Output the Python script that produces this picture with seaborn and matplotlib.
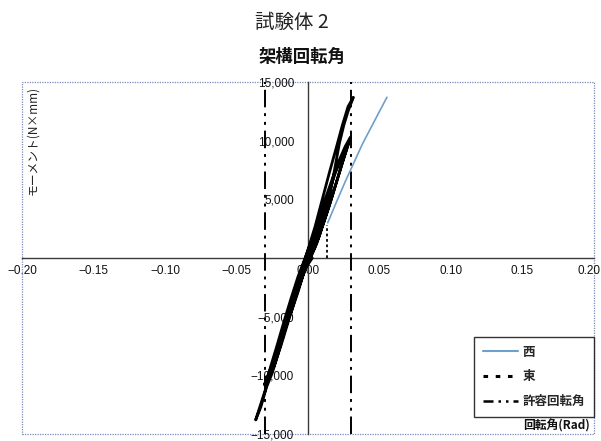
import numpy as np
import pandas as pd
import matplotlib
matplotlib.use("Agg")
import matplotlib.pyplot as plt
import seaborn as sns
from matplotlib.lines import Line2D
from matplotlib.patches import Rectangle
from matplotlib.ticker import FuncFormatter

# ---------------- data ----------------
# 東 (hysteresis loops), rotation [rad] and moment [N*mm]
east_rot = [
    0.000, 0.004, 0.008, 0.012, 0.0155,
    0.012, 0.007, 0.003, -0.001, -0.005, -0.009, -0.013, -0.016,
    -0.012, -0.007, -0.003, 0.001,
    0.005, 0.010, 0.015, 0.020, 0.025, 0.0297,
    0.026, 0.021, 0.016, 0.010, 0.004, -0.002, -0.007, -0.012, -0.017, -0.022, -0.026, -0.029,
    -0.024, -0.019, -0.014, -0.009, -0.004, 0.001, 0.006,
    0.011, 0.016, 0.021, 0.025, 0.029,
    0.025, 0.019, 0.013, 0.007, 0.001, -0.004, -0.009, -0.014, -0.019, -0.024, -0.028, -0.0305,
    -0.026, -0.021, -0.016, -0.011, -0.006, -0.001, 0.004,
    0.008, 0.012, 0.016, 0.019, 0.022, 0.025, 0.028, 0.0317,
    0.028, 0.024, 0.020, 0.015, 0.010, 0.005, 0.000, -0.005, -0.010, -0.015, -0.020, -0.025, -0.030, -0.0366,
    -0.033, -0.029, -0.025, -0.021, -0.017, -0.012, -0.007, -0.002, 0.003,
]
east_mom = [
    0, 1200, 2700, 4200, 5500,
    4600, 2800, 1000, -400, -1800, -3300, -4700, -5600,
    -4700, -2900, -1300, 0,
    1000, 2700, 4500, 6500, 8500, 10300,
    9500, 8100, 6400, 4300, 2000, 0, -1600, -3500, -5500, -7600, -9200, -10500,
    -9300, -7500, -5500, -3500, -1600, -200, 1200,
    3000, 4900, 6900, 8500, 10000,
    9000, 7200, 5000, 2800, 700, -900, -2800, -4900, -6900, -8800, -10000, -10800,
    -9800, -8100, -6100, -4100, -2300, -600, 700,
    1900, 3700, 5800, 7800, 9800, 11300, 12500, 13700,
    12900, 11300, 9500, 7300, 5000, 2700, 700, -1200, -3200, -5200, -7300, -9300, -11300, -13800,
    -12700, -11000, -9800, -8200, -6400, -4400, -2600, -900, 0,
]
# 東: short vertical dotted part
east_tail_rot = [0.013, 0.013]
east_tail_mom = [0, 2800]

# 西 (monotonic)
west_rot = [0.0138, 0.020, 0.026, 0.032, 0.038, 0.044, 0.050, 0.0552]
west_mom = [3000, 4800, 6500, 8100, 9700, 11100, 12500, 13700]

# 許容回転角
allow_rot = [-0.03, 0.03]

x_ticks = [-0.20, -0.15, -0.10, -0.05, 0.00, 0.05, 0.10, 0.15, 0.20]
y_ticks = [-15000, -10000, -5000, 0, 5000, 10000, 15000]

title_top = "試験体 2"
title_main = "架構回転角"
y_label = "モーメント(N×mm)"
x_label = "回転角(Rad)"
legend_labels = ["西", "東", "許容回転角"]

# ---------------- style ----------------
sns.set_theme(style="white")
plt.rcParams["font.family"] = ["Liberation Sans", "Noto Sans CJK JP", "DejaVu Sans"]
plt.rcParams["axes.unicode_minus"] = True
CJK = ["Noto Sans CJK JP", "DejaVu Sans"]

blue = "#6f9fcc"
axis_col = "#3a3a3a"
dashdotdot = (0, (9, 3, 1.5, 3, 1.5, 3))
TICK_FS = 8.5


def fmt_x(v):
    return f"{v:.2f}".replace("-", "\u2212")


fig = plt.figure(figsize=(6.01, 4.41), dpi=100)
fig.patch.set_facecolor("white")
ax = fig.add_axes([22 / 601, (441 - 434) / 441, 572 / 601, 352 / 441])
ax.set_facecolor("white")

# lines
east_df = pd.DataFrame({"rot": east_rot, "mom": east_mom})
sns.lineplot(data=east_df, x="rot", y="mom", sort=False, estimator=None,
             color="black", lw=2.0, ax=ax, zorder=4)
sns.lineplot(x=east_tail_rot, y=east_tail_mom, sort=False, estimator=None,
             color="black", lw=1.3, linestyle=(0, (1.5, 1.5)), ax=ax, zorder=4)
sns.lineplot(x=west_rot, y=west_mom, sort=False, estimator=None,
             color=blue, lw=1.2, ax=ax, zorder=3)
for v in allow_rot:
    ax.axvline(v, color="black", lw=1.4, linestyle=dashdotdot, zorder=2)

ax.set_xlim(-0.2, 0.2)
ax.set_ylim(-15000, 15000)

# spines through origin
for s in ["top", "right"]:
    ax.spines[s].set_visible(False)
ax.spines["left"].set_position(("data", 0))
ax.spines["bottom"].set_position(("data", 0))
for s in ["left", "bottom"]:
    ax.spines[s].set_color(axis_col)
    ax.spines[s].set_linewidth(1.0)
    ax.spines[s].set_zorder(1)

ax.set_xticks(x_ticks)
ax.set_yticks(y_ticks)
# the last x label is drawn separately (right-aligned) so it stays in the picture
ax.xaxis.set_major_formatter(FuncFormatter(
    lambda v, p: "" if abs(v - x_ticks[-1]) < 1e-9 else fmt_x(v)))
ax.yaxis.set_major_formatter(FuncFormatter(
    lambda v, p: "" if abs(v) < 1e-9 else f"{v:,.0f}".replace("-", "\u2212")))
ax.tick_params(axis="both", direction="in", length=4, width=1, color=axis_col,
               labelsize=TICK_FS, labelcolor="#111111")
ax.tick_params(axis="x", pad=5)
ax.tick_params(axis="y", pad=10)
ax.set_xlabel("")
ax.set_ylabel("")
ax.grid(False)

ax.annotate(fmt_x(x_ticks[-1]), xy=(x_ticks[-1], 0), xycoords="data",
            xytext=(4.5, -5), textcoords="offset points", ha="right", va="top",
            fontsize=TICK_FS, color="#111111", annotation_clip=False)

# dotted plot-area border
ax.add_patch(Rectangle((0, 0), 1, 1, transform=ax.transAxes, fill=False,
                       ec="#7d8ab8", lw=0.9, ls=(0, (1, 1)), clip_on=False, zorder=0))

# titles
fig.text(0.486, 1 - 22 / 441, title_top, ha="center", va="center", fontsize=14,
         family=CJK, color="#222222")
fig.text(0.502, 1 - 57 / 441, title_main, ha="center", va="center", fontsize=12.5,
         family=CJK, fontweight="bold", color="#111111")

# axis labels
fig.text(33 / 601, 1 - 140 / 441, y_label, rotation=90, ha="center", va="center",
         fontsize=8.5, family=CJK, color="#222222")
fig.text(590 / 601, 1 - 426 / 441, x_label, ha="right", va="center",
         fontsize=8.5, family=CJK, fontweight="bold", color="#111111")

# legend
handles = [
    Line2D([], [], color=blue, lw=1.5),
    Line2D([], [], color="black", lw=2.2, linestyle=(0, (1.5, 2.5))),
    Line2D([], [], color="black", lw=1.8, linestyle=(0, (4, 2, 1, 2, 1, 2))),
]
leg = ax.legend(handles, legend_labels, loc="lower right", bbox_to_anchor=(1.0, 0.048),
                borderaxespad=0, frameon=True, fancybox=False, edgecolor="black",
                prop={"family": CJK, "size": 9, "weight": "bold"},
                handlelength=2.8, handletextpad=0.4, labelspacing=0.95,
                borderpad=0.7)
leg.get_frame().set_linewidth(1.0)

fig.savefig("out.png", dpi=100, facecolor="white")
